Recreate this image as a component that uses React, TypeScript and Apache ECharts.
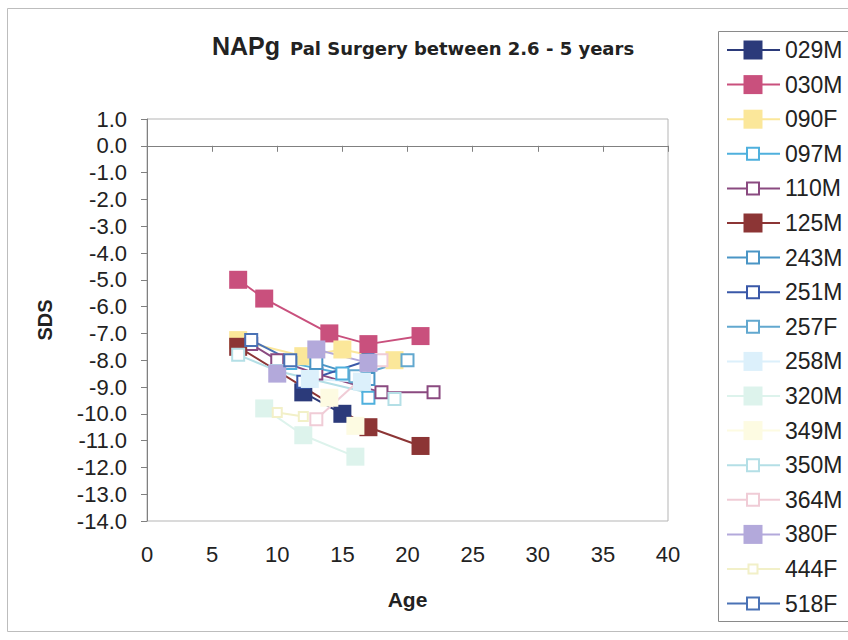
import React, { useEffect, useRef } from "react";
import * as echarts from "echarts";

const seriesNames = ["029M", "030M", "090F", "097M", "110M", "125M", "243M", "251M", "257F", "258M", "320M", "349M", "350M", "364M", "380F", "444F", "518F"];

const d029M = [[12, -9.2], [15, -10.0]];
const d030M = [[7, -5.0], [9, -5.7], [14, -7.0], [17, -7.4], [21, -7.1]];
const d090F = [[7, -7.25], [12, -7.85], [15, -7.6], [19, -8.0]];
const d097M = [[11, -8.1], [15, -8.5], [17, -9.4]];
const d110M = [[8, -7.4], [10, -8.0], [13, -8.5], [18, -9.2], [22, -9.2]];
const d125M = [[7, -7.5], [17, -10.5], [21, -11.2]];
const d243M = [[13, -8.1], [17, -8.7]];
const d251M = [[12, -8.8], [17, -8.0]];
const d257F = [[16, -8.6], [20, -8.0]];
const d258M = [[12.5, -8.7], [16.5, -8.8]];
const d320M = [[9, -9.8], [12, -10.8], [16, -11.6]];
const d349M = [[14, -9.4], [16, -10.45]];
const d350M = [[7, -7.8], [10, -8.4], [19, -9.45]];
const d364M = [[13, -10.2], [18, -8.0]];
const d380F = [[10, -8.5], [13, -7.6], [17, -8.1]];
const d444F = [[10, -9.95], [12, -10.1]];
const d518F = [[8, -7.25], [11, -8.0]];

const seriesData = [d029M, d030M, d090F, d097M, d110M, d125M, d243M, d251M, d257F, d258M, d320M, d349M, d350M, d364M, d380F, d444F, d518F];

const seriesColors = ["#2b3a7a", "#c9507d", "#fbe79a", "#4fb0dd", "#8a4a80", "#8c3535", "#4a95c5", "#3a58a8", "#62a8cf", "#dcf0fb", "#ddf3ec", "#fdfbe2", "#b4dfe6", "#f0ccd6", "#b3a9db", "#f2f0c8", "#4a72b5"];
const seriesFilled = [true, true, true, false, false, true, false, false, false, true, true, true, false, false, true, false, false];

const xMin = 0, xMax = 40, xStep = 5;
const yMin = -14, yMax = 1, yStep = 1;

const titleMain = "NAPg";
const titleSub = "Pal Surgery between 2.6 - 5 years";
const xName = "Age";
const yName = "SDS";

export default function App() {
  const ref = useRef<HTMLDivElement>(null);
  useEffect(() => {
    document.body.style.margin = "0";
    const chart = echarts.init(ref.current!, null, { renderer: "svg" });
    const font = "Liberation Sans, Arial, sans-serif";

    const series = seriesNames.map((name, i) => {
      const filled = seriesFilled[i];
      const size = filled ? 18 : name === "444F" ? 9 : 12;
      return {
        name,
        type: "line",
        data: seriesData[i],
        symbol: filled ? "rect" : "emptyRect",
        symbolSize: size,
        showAllSymbol: true,
        color: seriesColors[i],
        lineStyle: { color: seriesColors[i], width: 2 },
        itemStyle: { color: seriesColors[i], borderColor: seriesColors[i], borderWidth: filled ? 0 : 2 },
        emphasis: { disabled: true },
      };
    });

    const legendTop = 50, legendStep = 34.6;
    const legendGraphics: any[] = [
      { type: "rect", shape: { x: 7.5, y: 8.5, width: 860, height: 623 }, style: { fill: "none", stroke: "#bdbdbd", lineWidth: 1 }, silent: true },
      { type: "rect", shape: { x: 718.5, y: 31.5, width: 160, height: 590 }, style: { fill: "#fff", stroke: "#8a8a8a", lineWidth: 1 }, silent: true },
    ];
    seriesNames.forEach((name, i) => {
      const y = legendTop + i * legendStep;
      const filled = seriesFilled[i];
      const c = seriesColors[i];
      legendGraphics.push({ type: "line", shape: { x1: 727, y1: y, x2: 780, y2: y }, style: { stroke: c, lineWidth: 2 }, silent: true });
      const s = filled ? 19 : name === "444F" ? 9 : 12;
      legendGraphics.push({
        type: "rect",
        shape: { x: 753 - s / 2, y: y - s / 2, width: s, height: s },
        style: filled ? { fill: c } : { fill: "#fff", stroke: c, lineWidth: 2 },
        silent: true,
      });
      legendGraphics.push({
        type: "text",
        x: 785,
        y: y,
        style: { text: name, font: `23px ${font}`, fill: "#222", verticalAlign: "middle", align: "left" },
        silent: true,
      });
    });
    legendGraphics.push({
      type: "text", x: 212, y: 46,
      style: { text: titleMain, font: `bold 25px ${font}`, fill: "#222", verticalAlign: "middle" }, silent: true,
    });
    legendGraphics.push({
      type: "text", x: 290, y: 48,
      style: { text: titleSub, font: `bold 18px DejaVu Sans, sans-serif`, fill: "#222", verticalAlign: "middle" }, silent: true,
    });

    chart.setOption({
      animation: false,
      backgroundColor: "#ffffff",
      grid: { left: 147, top: 119, width: 521, height: 402, show: true, borderColor: "#b5b5b5", borderWidth: 1, backgroundColor: "#fff", outerBoundsMode: "none" },
      xAxis: {
        type: "value", min: xMin, max: xMax, interval: xStep,
        axisLine: { lineStyle: { color: "#808080", width: 1 } },
        axisTick: { show: true, inside: false, length: 6, lineStyle: { color: "#808080" } },
        axisLabel: { fontSize: 22, color: "#222", fontFamily: font, margin: 22 },
        splitLine: { show: false },
        name: xName, nameLocation: "middle", nameGap: 68,
        nameTextStyle: { fontSize: 21, fontWeight: "bold", color: "#222", fontFamily: font },
      },
      yAxis: {
        type: "value", min: yMin, max: yMax, interval: yStep,
        axisLine: { show: true, lineStyle: { color: "#808080", width: 1 } },
        axisTick: { show: true, inside: false, length: 6, lineStyle: { color: "#808080" } },
        axisLabel: { fontSize: 22, color: "#222", fontFamily: font, margin: 20, formatter: (v: number) => v.toFixed(1) },
        splitLine: { show: false },
        name: yName, nameLocation: "middle", nameGap: 92, nameRotate: 90,
        nameTextStyle: { fontSize: 20, fontWeight: "bold", color: "#222", fontFamily: font },
      },
      graphic: legendGraphics,
      series,
    });
    return () => chart.dispose();
  }, []);
  return <div ref={ref} style={{ width: 848, height: 640 }} />;
}
